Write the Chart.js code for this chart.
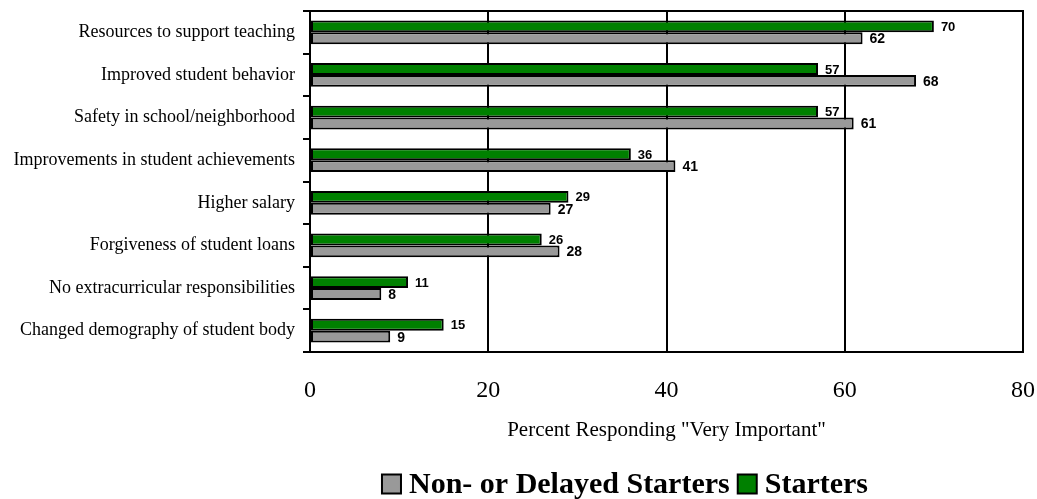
<!DOCTYPE html>
<html>
<head>
<meta charset="utf-8">
<script src="https://cdn.jsdelivr.net/npm/chart.js@4"></script>
<style>
  html, body { margin: 0; padding: 0; background: #fff; }
  #wrap { width: 1037px; height: 499px; }
</style>
</head>
<body>
<div id="wrap"><canvas id="teachChart"></canvas></div>
<script>
const categories = [
    'Resources to support teaching',
    'Improved student behavior',
    'Safety in school/neighborhood',
    'Improvements in student achievements',
    'Higher salary',
    'Forgiveness of student loans',
    'No extracurricular responsibilities',
    'Changed demography of student body'
]
const starters = [70, 57, 57, 36, 29, 26, 11, 15]
const nonDelayed = [62, 68, 61, 41, 27, 28, 8, 9]
const xTicks = [0, 20, 40, 60, 80]

const serif = "'Liberation Serif', 'Times New Roman', serif"
const sans = "'Liberation Sans', Arial, sans-serif"

// numbers at the end of each bar
const barLabels = {
    id: 'barLabels',
    afterDatasetsDraw(chart) {
        const ctx = chart.ctx
        ctx.save()
        ctx.fillStyle = '#000'
        ctx.textAlign = 'left'
        ctx.textBaseline = 'middle'
        chart.data.datasets.forEach((ds, i) => {
            ctx.font = 'bold ' + (i === 0 ? 13 : 14) + 'px ' + sans
            chart.getDatasetMeta(i).data.forEach((bar, j) => {
                ctx.fillText(ds.data[j], bar.x + 7, bar.y + 1)
            })
        })
        ctx.restore()
    }
}

// box around the plot
const plotFrame = {
    id: 'plotFrame',
    afterDatasetsDraw(chart) {
        const a = chart.chartArea
        const ctx = chart.ctx
        ctx.save()
        ctx.strokeStyle = '#000'
        ctx.lineWidth = 2
        ctx.strokeRect(a.left, a.top, a.right - a.left, a.bottom - a.top)
        ctx.restore()
    }
}

// legend under the axis title, gray item first
const bottomLegend = {
    id: 'bottomLegend',
    afterDraw(chart) {
        const ctx = chart.ctx
        const items = chart.data.datasets.slice().reverse()
        const box = 19, gap = 8, itemGap = 8
        ctx.save()
        ctx.font = 'bold 30px ' + serif
        ctx.textBaseline = 'middle'
        ctx.textAlign = 'left'
        let total = 0
        items.forEach((ds, i) => {
            total += box + gap + ctx.measureText(ds.label).width
            if (i > 0) total += itemGap
        })
        let x = 625 - total / 2
        const y = 484
        items.forEach(ds => {
            ctx.fillStyle = ds.backgroundColor
            ctx.fillRect(x, y - box / 2, box, box)
            ctx.strokeStyle = '#000'
            ctx.lineWidth = 2
            ctx.strokeRect(x, y - box / 2, box, box)
            x += box + gap
            ctx.fillStyle = '#000'
            ctx.fillText(ds.label, x, y + 1)
            x += ctx.measureText(ds.label).width + itemGap
        })
        ctx.restore()
    }
}

new Chart(document.getElementById('teachChart'), {
    type: 'bar',
    data: {
        labels: categories,
        datasets: [
            {
                label: 'Starters',
                data: starters,
                backgroundColor: '#008000',
                borderColor: '#000',
                borderWidth: 2,
                borderSkipped: false
            },
            {
                label: 'Non- or Delayed Starters',
                data: nonDelayed,
                backgroundColor: '#999999',
                borderColor: '#000',
                borderWidth: 2,
                borderSkipped: false
            }
        ]
    },
    options: {
        indexAxis: 'y',
        responsive: true,
        maintainAspectRatio: false,
        animation: false,
        categoryPercentage: 0.56,
        barPercentage: 1,
        layout: { padding: { top: 11, right: 14, bottom: 56, left: 0 } },
        plugins: {
            legend: { display: false },
            tooltip: { enabled: false }
        },
        scales: {
            x: {
                min: 0,
                max: 80,
                afterBuildTicks: axis => { axis.ticks = xTicks.map(v => ({ value: v })) },
                afterFit: axis => { axis.paddingLeft = 0; axis.paddingRight = 0; axis.height = 91 },
                grid: { color: '#000', lineWidth: 2, drawTicks: false },
                border: { color: '#000', width: 2 },
                ticks: { color: '#000', padding: 24, font: { family: serif, size: 24 } },
                title: {
                    display: true,
                    text: 'Percent Responding "Very Important"',
                    color: '#000',
                    font: { family: serif, size: 21 },
                    padding: { top: 14, bottom: 0 }
                }
            },
            y: {
                afterFit: axis => { axis.width = 310; axis.paddingTop = 0; axis.paddingBottom = 0 },
                grid: { drawOnChartArea: false, drawTicks: true, tickLength: 7, color: '#000', lineWidth: 2, offset: true },
                border: { color: '#000', width: 2 },
                ticks: { color: '#000', padding: 8, font: { family: serif, size: 18 } }
            }
        }
    },
    plugins: [barLabels, plotFrame, bottomLegend]
})
</script>
</body>
</html>
